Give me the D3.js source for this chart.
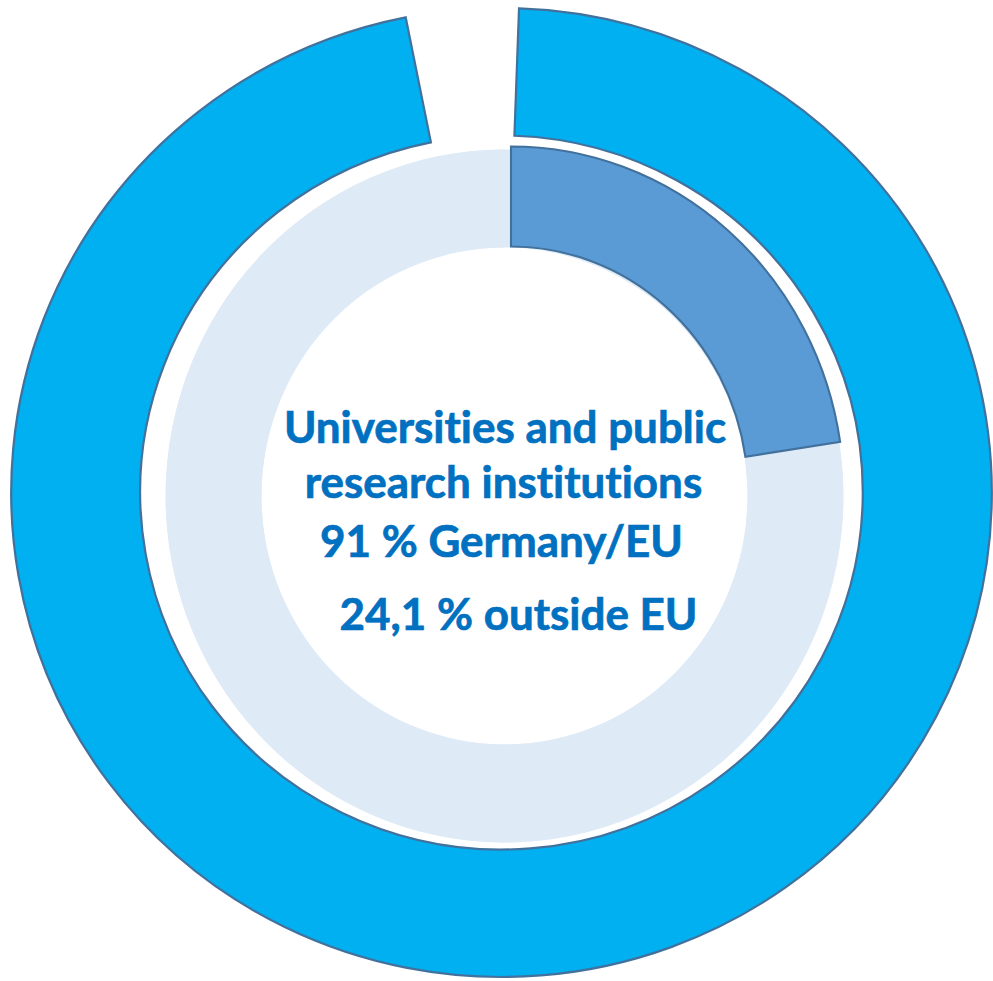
<!DOCTYPE html>
<html>
<head>
<meta charset="utf-8">
<script src="https://cdn.jsdelivr.net/npm/d3@7/dist/d3.min.js"></script>
<style>
  html, body { margin: 0; padding: 0; background: #ffffff; }
  svg { display: block; }
  text { font-variant-ligatures: none; font-feature-settings: "liga" 0, "clig" 0; }
</style>
</head>
<body>
<svg id="chart" width="993" height="981"></svg>
<script>
// ---- data ----
const outerLabels = ["Germany/EU", "gap"];
const outerValues = [96.3, 3.7];          // visible ring share vs. empty gap at the top
const innerLabels = ["outside EU", "rest"];
const innerValues = [22.6, 77.4];         // exploded dark slice vs. light remainder
const centerLines = [
  "Universities and public",
  "research institutions",
  "91 % Germany/EU",
  "24,1 % outside EU"
];

// ---- styling ----
const W = 993, H = 981;
const svg = d3.select("#chart");
const deg = Math.PI / 180;
const strokeCol = "#41719C";

// outer ring
const outerG = svg.append("g")
  .attr("transform", "translate(501.5,492.5) scale(1.012,1)");
const outerPie = d3.pie().sort(null).value(d => d)
  .startAngle(2.05 * deg).endAngle(2.05 * deg + 2 * Math.PI);
const outerArc = d3.arc().innerRadius(357).outerRadius(484.5);
outerG.selectAll("path")
  .data(outerPie(outerValues))
  .join("path")
  .attr("d", outerArc)
  .attr("fill", (d, i) => i === 0 ? "#00B0F0" : "none")
  .attr("stroke", (d, i) => i === 0 ? strokeCol : "none")
  .attr("stroke-width", 2.2)
  .attr("stroke-linejoin", "miter");

// inner ring: light background ring
const innerPie = d3.pie().sort(null).value(d => d);
const innerArc = d3.arc().innerRadius(248.5).outerRadius(346.5);
const lightG = svg.append("g")
  .attr("transform", "translate(504.5,496) scale(0.978,1)");
lightG.append("path")
  .attr("d", d3.arc().innerRadius(248.5).outerRadius(346.5)({startAngle: 0, endAngle: 2 * Math.PI}))
  .attr("fill", "#DEEBF7");
lightG.selectAll("path.slice")
  .data(innerPie(innerValues).filter((d, i) => i === 1))
  .join("path")
  .attr("class", "slice")
  .attr("d", innerArc)
  .attr("fill", "#DEEBF7");

// exploded dark slice
const darkG = svg.append("g")
  .attr("transform", "translate(511,494) scale(0.958,1)");
darkG.selectAll("path")
  .data(innerPie(innerValues).filter((d, i) => i === 0))
  .join("path")
  .attr("d", d3.arc().innerRadius(247.5).outerRadius(347.5))
  .attr("fill", "#5B9BD5")
  .attr("stroke", strokeCol)
  .attr("stroke-width", 2.2);

// centre text
const textX = [505, 503.5, 501.5, 518.5];
const textY = [443, 498, 557, 630];
const targetW = [450, 403, 357, 353];
const font = "Lato, 'Open Sans', sans-serif";
const tg = svg.append("g");
const texts = tg.selectAll("text")
  .data(centerLines)
  .join("text")
  .attr("x", (d, i) => textX[i])
  .attr("y", (d, i) => textY[i])
  .attr("text-anchor", "middle")
  .attr("font-family", font)
  .attr("font-weight", 700)
  .attr("font-size", 42)
  .attr("fill", "#0070C0")
  .attr("stroke", "#0070C0")
  .attr("stroke-width", 0.7)
  .text(d => d);
// fit a common font size to the measured widths
let ratioSum = 0;
texts.each(function(d, i) { ratioSum += targetW[i] / this.getComputedTextLength(); });
const fs = 42 * ratioSum / centerLines.length;
texts.attr("font-size", fs);
</script>
</body>
</html>
